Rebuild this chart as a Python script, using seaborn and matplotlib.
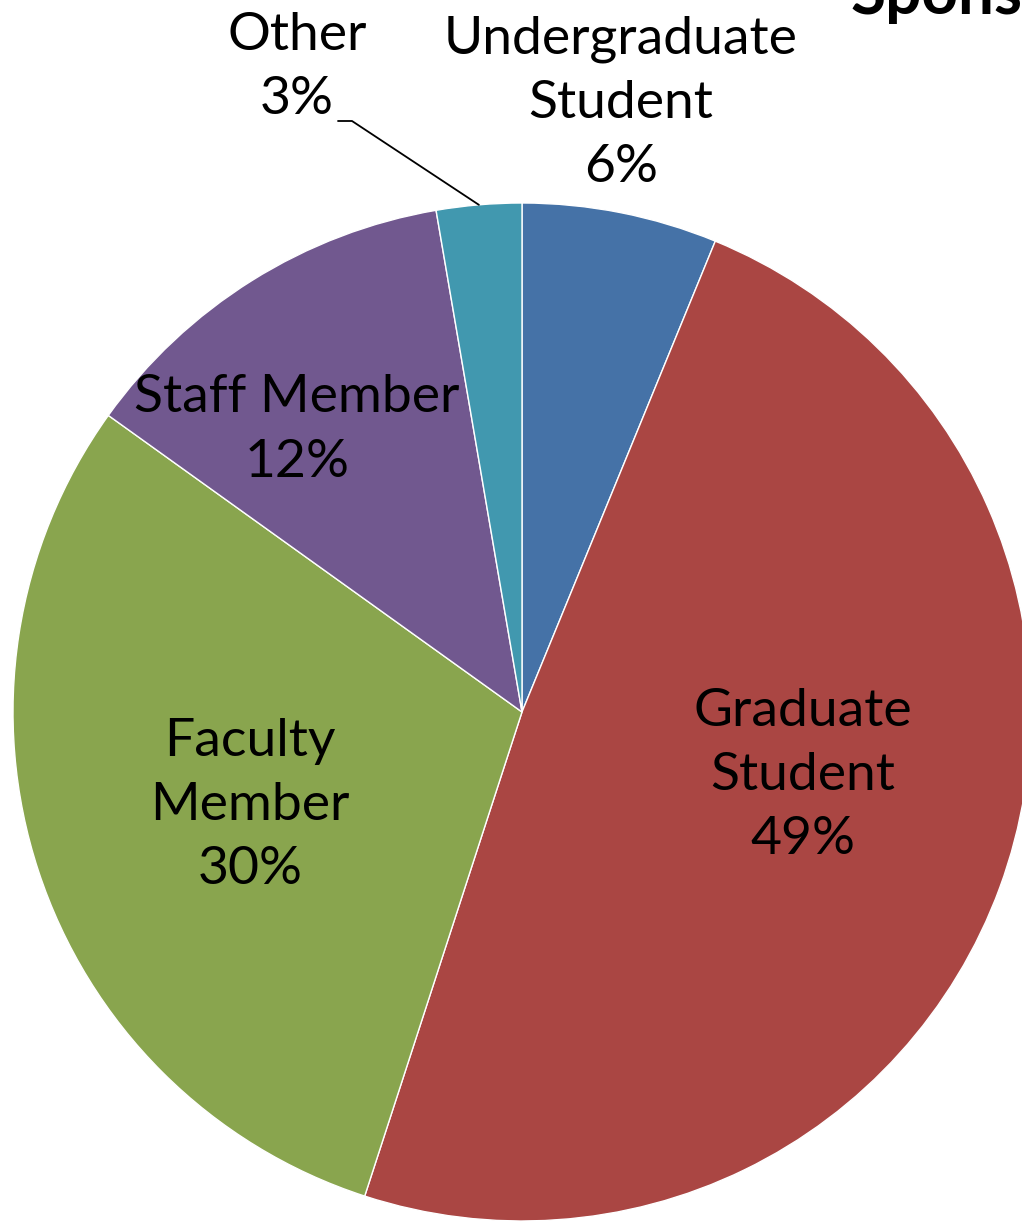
import matplotlib
matplotlib.use("Agg")
import matplotlib.pyplot as plt
import seaborn as sns
import numpy as np

sns.set_theme(style="white")
plt.rcParams['font.family'] = ['Lato', 'DejaVu Sans']

# Data (clockwise from 12 o'clock)
categories = ["Undergraduate\nStudent", "Graduate\nStudent", "Faculty\nMember", "Staff Member", "Other"]
values = [6.2, 48.8, 29.9, 12.4, 2.7]
colors = ["#4572A7", "#AA4643", "#89A54E", "#71588F", "#4198AF"]
title_text = "Sponsor"

# Label positions (data units, pie radius = 1)
label_pos = [(0.194, 1.196), (0.552, -0.124), (-0.534, -0.183), (-0.442, 0.554), (-0.442, 1.267)]

W, H = 1022, 1223
fig = plt.figure(figsize=(W / 100, H / 100), dpi=100)
cx, cy, R = 522, 712, 509
ax = fig.add_axes([(cx - R) / W, (H - cy - R) / H, 2 * R / W, 2 * R / H])

wedges, _ = ax.pie(values, colors=colors, startangle=90, counterclock=False,
                   radius=1, wedgeprops=dict(edgecolor="white", linewidth=1))
ax.set_xlim(-1, 1)
ax.set_ylim(-1, 1)
ax.set_aspect("equal")
ax.axis("off")

total = sum(values)
for cat, v, (x, y) in zip(categories, values, label_pos):
    ax.text(x, y, f"{cat}\n{round(v / total * 100):.0f}%", ha="center", va="center",
            fontsize=38.5, color="black", linespacing=1.45, clip_on=False)

# Leader line for "Other"
ang = np.deg2rad(90 - 360 * (total - values[-1] / 2) / total)
ex, ey = np.cos(ang), np.sin(ang)
ax.plot([(338 - cx) / R, (352 - cx) / R, ex], [(cy - 121) / R, (cy - 121) / R, ey],
        color="black", lw=1.3, clip_on=False)

fig.text(851 / W, 1 - 14 / H, title_text, fontsize=46, fontweight="bold",
         color="black", ha="left", va="baseline")

fig.savefig("out.png", dpi=100)
